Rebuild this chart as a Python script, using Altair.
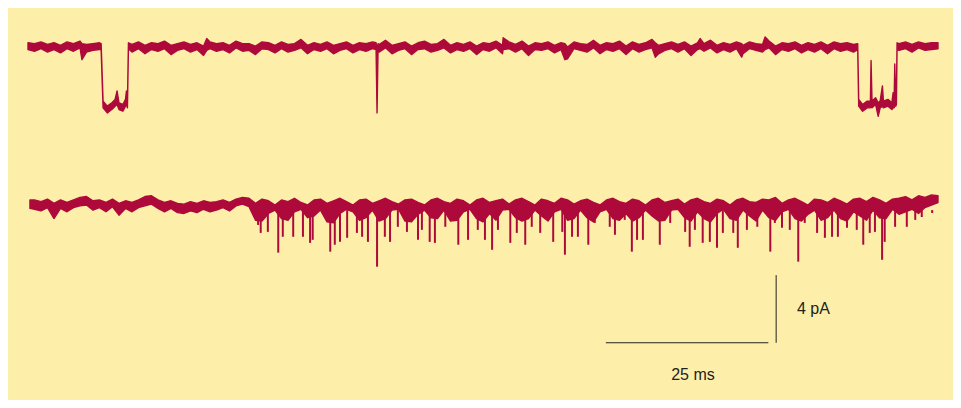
import altair as alt
import pandas as pd

# ---------------- data (ms, pA) ----------------
# Upper trace, envelope per 1 ms sample from 0 ms (None = inside an opening)
top_hi = [
    0.25, 0.2, 0.3, 0.15, 0.25, 0.1, 0.3, 0.2, 0.35, 0.15,
    0.2, 0.25, None, None, None, None, 0.15, 0.3, 0.1, 0.25,
    0.2, 0.35, 0.1, 0.2, 0.3, 0.15, 0.25, 0.05, 0.3, 0.2,
    0.25, 0.1, 0.35, 0.2, 0.2, 0.05, 0.3, 0.25, 0.1, 0.3,
    0.15, 0.2, 0.45, 0.1, 0.25, 0.15, 0.3, 0.1, 0.2, 0.3,
    0.1, 0.25, 0.2, 0.3, 0.15, 0.4, 0.1, 0.2, 0.3, 0.05,
    0.25, 0.35, 0.15, 0.2, 0.45, 0.1, 0.25, 0.15, 0.3, 0.05,
    0.25, 0.2, 0.35, 0.1, 0.3, 0.15, 0.35, 0.05, 0.25, 0.2,
    0.3, 0.1, 0.25, 0.0, 0.3, 0.2, 0.15, 0.4, 0.1, 0.25,
    0.2, 0.35, 0.05, 0.3, 0.15, 0.25, 0.45, 0.1, 0.2, 0.3,
    0.15, 0.3, 0.05, 0.25, 0.2, 0.4, 0.1, 0.25, 0.15, 0.3,
    0.1, 0.3, 0.2, 0.15, 0.35, 0.05, 0.25, 0.2, 0.3, 0.1,
    0.25, 0.15, 0.3, 0.1, 0.3, 0.2, 0.25, 0.15, None, None,
    None, None, None, None, 0.2, 0.3, 0.15, 0.3, 0.2, 0.25,
]
top_lo = [
    -0.15, -0.25, -0.1, -0.3, -0.15, -0.35, -0.1, -0.25, -0.05, -0.3,
    -0.2, -0.15, None, None, None, None, -0.3, -0.1, -0.4, -0.15,
    -0.25, -0.1, -0.45, -0.2, -0.1, -0.3, -0.15, -0.5, -0.1, -0.25,
    -0.15, -0.35, -0.05, -0.25, -0.2, -0.45, -0.1, -0.15, -0.35, -0.1,
    -0.3, -0.2, -0.05, -0.4, -0.15, -0.25, -0.1, -0.4, -0.2, -0.1,
    -0.35, -0.15, -0.25, -0.1, -0.3, -0.05, -0.4, -0.2, -0.1, -0.45,
    -0.15, -0.1, -0.3, -0.2, -0.05, -0.35, -0.15, -0.25, -0.1, -0.45,
    -0.15, -0.25, -0.05, -0.4, -0.1, -0.3, -0.1, -0.5, -0.15, -0.2,
    -0.1, -0.35, -0.15, -0.7, -0.1, -0.2, -0.3, -0.05, -0.4, -0.15,
    -0.25, -0.1, -0.45, -0.1, -0.3, -0.15, -0.05, -0.4, -0.2, -0.1,
    -0.3, -0.1, -0.5, -0.15, -0.25, -0.05, -0.35, -0.15, -0.3, -0.1,
    -0.4, -0.1, -0.2, -0.3, -0.05, -0.45, -0.15, -0.25, -0.1, -0.35,
    -0.15, -0.3, -0.1, -0.4, -0.1, -0.25, -0.15, -0.3, None, None,
    None, None, None, None, -0.2, -0.1, -0.3, -0.05, -0.2, -0.15,
]
# Upper trace: openings, brief events, noise pips and trace end (time, envelope high, envelope low)
top_event_t = [8.3, 27.5,
               11.25, 11.55, 12.2, 12.9, 13.4, 13.7, 14.0, 14.6, 15.0, 15.15, 15.3, 15.45,
               53.55, 53.7, 53.85,
               73.1, 82.6, 96.5, 103.4, 109.8, 113.4,
               127.65, 127.8, 128.4, 129.1, 129.6, 129.7, 129.85, 130.4, 130.8, 131.1,
               131.45, 131.6, 132.3, 132.9, 133.1, 133.25, 133.35, 133.5, 133.6, 133.7,
               140.0]
top_event_hi = [0.2, 0.5,
                0.2, -3.2, -3.5, -3.3, -3.1, -2.6, -3.3, -3.4, -3.1, -2.6, -3.3, 0.25,
                0.25, -0.2, 0.2,
                0.55, 0.2, 0.25, 0.5, 0.2, 0.6,
                0.2, -3.1, -3.4, -3.2, -3.2, -0.8, -3.2, -3.0, -3.3, -3.2,
                -2.3, -3.2, -3.1, -3.3, -2.7, -3.2, -1.0, -3.1, -3.0, 0.25,
                0.25]
top_event_lo = [-0.75, -0.2,
                -0.15, -3.6, -3.9, -3.7, -3.5, -3.4, -3.7, -3.8, -3.5, -3.4, -3.6, -0.1,
                -0.15, -3.9, -0.2,
                -0.15, -0.75, -0.6, -0.1, -0.6, -0.15,
                -0.15, -3.5, -3.8, -3.6, -3.6, -3.5, -3.6, -3.4, -4.1, -3.6,
                -3.5, -3.6, -3.5, -3.7, -3.6, -3.6, -3.5, -3.5, -3.4, -0.15,
                -0.1]

# Lower trace, envelope per 1 ms sample from 0 ms
bot_hi = [
    None, 0.3, 0.2, 0.35, 0.1, 0.3, 0.15, 0.3, 0.45, 0.5,
    0.25, 0.3, 0.15, 0.35, 0.1, 0.25, 0.15, 0.3, 0.5, 0.55,
    0.3, 0.15, 0.25, 0.1, 0.05, 0.2, 0.1, 0.25, 0.15, 0.2,
    0.3, 0.15, 0.35, 0.45, 0.4, 0.1, 0.35, 0.25, 0.0, 0.3,
    0.2, 0.4, 0.15, 0.0, 0.3, 0.35, 0.1, 0.25, 0.4, 0.2,
    0.0, 0.3, 0.35, 0.1, 0.25, 0.4, 0.2, 0.05, 0.3, 0.35,
    0.15, 0.0, 0.3, 0.4, 0.2, 0.1, 0.35, 0.25, 0.0, 0.3,
    0.4, 0.15, 0.25, 0.35, 0.05, 0.3, 0.4, 0.2, 0.0, 0.35,
    0.25, 0.1, 0.4, 0.3, 0.05, 0.25, 0.35, 0.15, 0.0, 0.3,
    0.4, 0.2, 0.1, 0.35, 0.25, 0.0, 0.3, 0.4, 0.15, 0.25,
    0.35, 0.05, 0.3, 0.4, 0.2, 0.1, 0.35, 0.25, 0.0, 0.3,
    0.4, 0.2, 0.15, 0.35, 0.3, 0.45, 0.1, 0.3, 0.4, 0.2,
    0.0, 0.35, 0.3, 0.15, 0.4, 0.25, 0.05, 0.35, 0.4, 0.2,
    0.45, 0.3, 0.1, 0.35, 0.4, 0.5, 0.3, 0.55, 0.45, 0.6,
]
bot_lo = [
    None, -0.25, -0.35, -0.15, -0.8, -0.2, -0.4, -0.15, -0.05, 0.0,
    -0.3, -0.15, -0.4, -0.1, -0.6, -0.2, -0.4, -0.15, -0.05, 0.05,
    -0.2, -0.4, -0.2, -0.45, -0.5, -0.35, -0.45, -0.25, -0.4, -0.3,
    -0.15, -0.35, -0.05, 0.05, -0.1, -0.9, -0.95, -0.5, -0.3, -0.8,
    -0.9, -0.4, -0.25, -0.75, -0.65, -0.3, -1.0, -1.05, -0.5, -0.25,
    -0.4, -0.9, -0.75, -0.3, -0.95, -0.8, -0.3, -0.25, -0.95, -1.0,
    -0.55, -0.3, -0.75, -0.8, -0.3, -0.95, -0.9, -0.4, -0.25, -0.8,
    -1.0, -0.5, -0.9, -0.3, -0.25, -0.75, -0.95, -0.8, -0.3, -0.65,
    -0.95, -0.4, -0.25, -0.9, -0.8, -0.3, -0.75, -1.0, -0.4, -0.25,
    -0.8, -0.9, -0.5, -0.95, -0.75, -0.3, -0.65, -0.95, -0.9, -0.3,
    -0.25, -0.75, -0.95, -0.4, -0.8, -1.0, -0.5, -0.25, -0.8, -0.9,
    -0.3, -0.65, -0.95, -0.3, -0.75, -0.9, -0.4, -0.25, -0.8, -0.95,
    -0.55, -0.3, -0.9, -0.75, -0.3, -0.8, -0.95, -0.4, -0.65, -0.9,
    -0.3, -0.75, -0.8, -0.25, -0.55, -0.4, -0.25, -0.5, -0.15, 0.0,
]
bot_event_t = [0.3, 140.0]
bot_event_hi = [0.3, 0.55]
bot_event_lo = [-0.2, 0.15]

# Lower trace: brief openings (flicker), time and depth
spike_t = [35.4, 35.8, 36.9, 38.5, 39.2, 40.8, 42.3, 43.4, 43.8, 46.5,
           47.2, 48.0, 49.1, 50.6, 51.4, 52.3, 53.7, 54.9, 55.7, 56.9,
           58.3, 60.0, 60.6, 61.8, 62.6, 64.2, 66.2, 67.7, 69.2, 70.3,
           71.4, 72.3, 74.2, 75.2, 76.5, 77.5, 78.8, 80.8, 82.2, 82.6,
           83.7, 84.6, 86.2, 87.2, 89.5, 90.3, 91.8, 92.9, 93.7, 94.6,
           97.2, 98.8, 101.1, 101.8, 102.6, 103.8, 104.9, 106.0, 106.9, 108.5,
           109.2, 110.6, 112.2, 114.2, 114.9, 116.0, 117.2, 118.5, 119.5, 121.4,
           122.6, 123.7, 124.6, 126.0, 127.5, 128.5, 129.5, 130.3, 131.4, 131.8,
           133.4, 135.2, 136.5, 137.5, 139.1]
spike_depth = [-1.18, -1.65, -1.59, -2.82, -1.88, -1.88, -1.88, -2.24, -2.06, -2.76,
               -2.35, -2.18, -1.94, -1.65, -1.88, -2.18, -3.65, -1.88, -2.18, -1.29,
               -1.59, -2.06, -1.47, -2.18, -2.24, -1.29, -2.35, -2.06, -1.47, -2.06,
               -2.65, -1.47, -2.24, -1.65, -2.35, -1.29, -1.65, -2.18, -1.59, -2.94,
               -1.88, -1.88, -2.35, -1.06, -1.29, -1.76, -0.88, -2.76, -2.06, -2.06,
               -2.35, -1.06, -1.59, -2.47, -1.47, -2.24, -2.18, -2.53, -1.65, -1.65,
               -2.53, -1.47, -1.29, -2.76, -1.06, -1.35, -1.47, -3.35, -1.06, -1.65,
               -1.94, -1.88, -1.88, -1.35, -1.47, -2.35, -1.65, -1.59, -3.24, -2.18,
               -1.29, -1.29, -0.88, -0.71, -0.47]

# Scale bars
bar_time_ms = 25
bar_current_pa = 4

# ---------------- build tables ----------------
LOWER_OFFSET = -9.35

rows = []
def add_samples(hi, lo, trace):
    for k, (h, l) in enumerate(zip(hi, lo)):
        if h is not None:
            rows.append({"t": float(k), "hi": h, "lo": l, "trace": trace})

def add_events(ts, hi, lo, trace):
    for t, h, l in zip(ts, hi, lo):
        rows.append({"t": t, "hi": h, "lo": l, "trace": trace})

add_samples(top_hi, top_lo, "A")
add_events(top_event_t, top_event_hi, top_event_lo, "A")
add_samples(bot_hi, bot_lo, "B")
add_events(bot_event_t, bot_event_hi, bot_event_lo, "B")
trace_df = pd.DataFrame(rows).sort_values(["trace", "t"]).reset_index(drop=True)

spike_df = pd.DataFrame({"t": spike_t, "depth": spike_depth})

bar_x0 = 88.9
bar_y0 = -17.5
hbar_df = pd.DataFrame({"t": [bar_x0], "t2": [bar_x0 + bar_time_ms], "y": [bar_y0]})
vbar_df = pd.DataFrame({"t": [115.1], "y": [bar_y0], "y2": [bar_y0 + bar_current_pa]})
label_left_df = pd.DataFrame({"t": [118.3], "y": [bar_y0 + bar_current_pa / 2],
                              "text": [f"{bar_current_pa} pA"]})
label_center_df = pd.DataFrame({"t": [bar_x0 + bar_time_ms / 2 + 0.9], "y": [-19.4],
                                "text": [f"{bar_time_ms} ms"]})

# ---------------- scales ----------------
W, H = 945, 392
PX_MS, PX_PA = 6.5, 16.9
x0 = -20 / PX_MS
y_top = 39 / PX_PA
xs = alt.Scale(domain=[x0, x0 + W / PX_MS], nice=False, zero=False)
ys = alt.Scale(domain=[y_top - H / PX_PA, y_top], nice=False, zero=False)

TRACE_COLOR = "#AD0A3B"
INK = "#222222"

traces = alt.Chart(trace_df).transform_calculate(
    yh=f"datum.trace == 'B' ? datum.hi + ({LOWER_OFFSET}) : datum.hi",
    yl=f"datum.trace == 'B' ? datum.lo + ({LOWER_OFFSET}) : datum.lo",
).mark_area(color=TRACE_COLOR, stroke=TRACE_COLOR, strokeWidth=1.4,
            strokeJoin="round", opacity=1).encode(
    x=alt.X("t:Q", scale=xs, axis=None),
    y=alt.Y("yh:Q", scale=ys, axis=None),
    y2="yl:Q",
    detail="trace:N",
)

spikes = alt.Chart(spike_df).transform_calculate(
    y0=f"{LOWER_OFFSET} - 0.3",
    y1=f"{LOWER_OFFSET} + datum.depth",
).mark_rule(color=TRACE_COLOR, strokeWidth=2).encode(
    x=alt.X("t:Q", scale=xs, axis=None),
    y=alt.Y("y0:Q", scale=ys, axis=None),
    y2="y1:Q",
)

hbar = alt.Chart(hbar_df).mark_rule(color=INK, strokeWidth=1).encode(
    x=alt.X("t:Q", scale=xs, axis=None), x2="t2:Q",
    y=alt.Y("y:Q", scale=ys, axis=None),
)
vbar = alt.Chart(vbar_df).mark_rule(color=INK, strokeWidth=1).encode(
    x=alt.X("t:Q", scale=xs, axis=None),
    y=alt.Y("y:Q", scale=ys, axis=None), y2="y2:Q",
)
labels_left = alt.Chart(label_left_df).mark_text(
    align="left", baseline="middle", font="Liberation Sans", fontSize=16, color=INK
).encode(
    x=alt.X("t:Q", scale=xs, axis=None),
    y=alt.Y("y:Q", scale=ys, axis=None),
    text="text:N",
)
labels_center = alt.Chart(label_center_df).mark_text(
    align="center", baseline="middle", font="Liberation Sans", fontSize=16, color=INK
).encode(
    x=alt.X("t:Q", scale=xs, axis=None),
    y=alt.Y("y:Q", scale=ys, axis=None),
    text="text:N",
)

chart = alt.layer(traces, spikes, hbar, vbar, labels_left, labels_center).properties(
    width=W, height=H, padding=0,
    autosize=alt.AutoSizeParams(type="none"),
    background="#FDEFA9",
).configure_view(stroke=None)

chart.save("out.html", embed_options={"renderer": "svg", "actions": False})
